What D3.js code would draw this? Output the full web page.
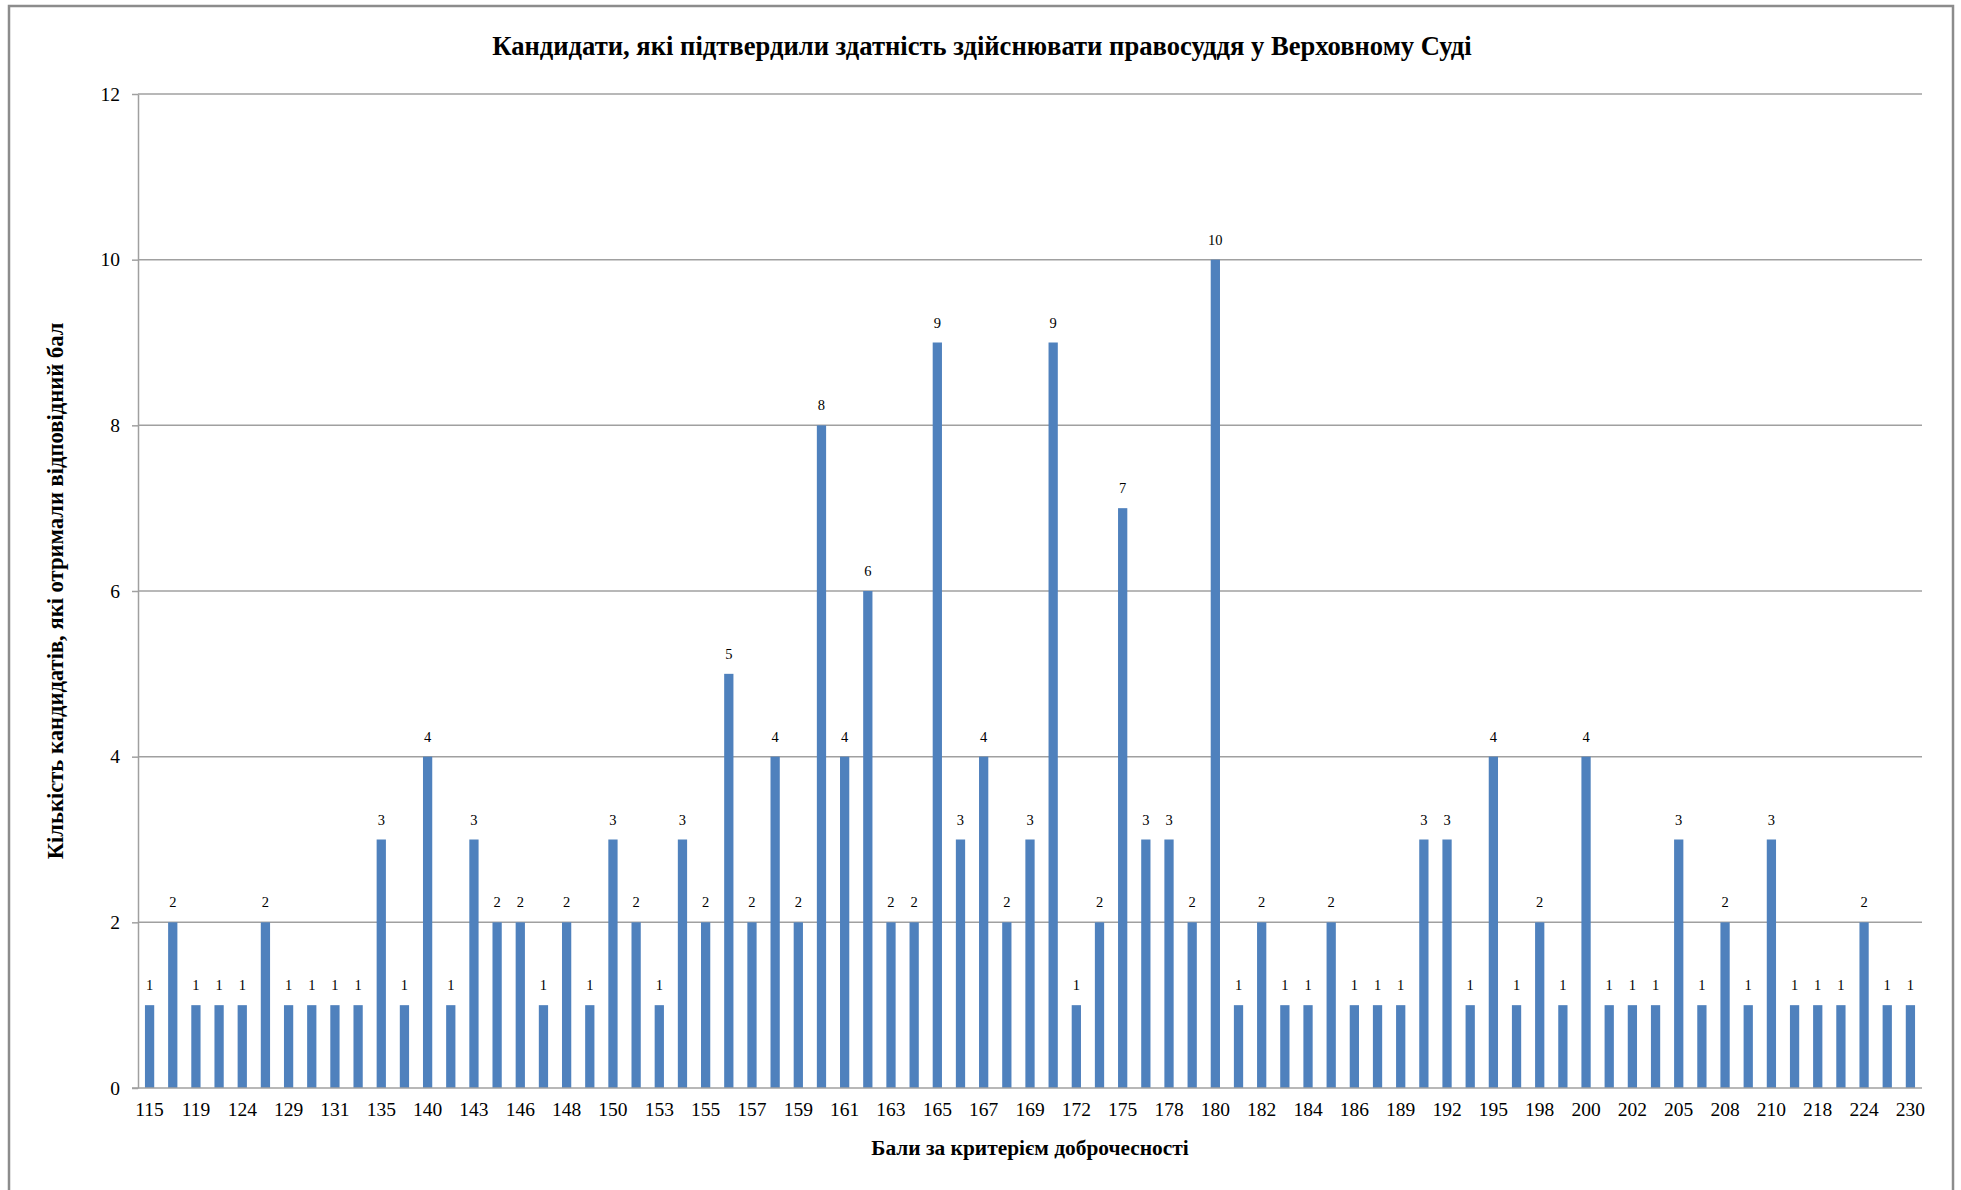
<!DOCTYPE html>
<html>
<head>
<meta charset="utf-8">
<script src="https://cdn.jsdelivr.net/npm/d3@7"></script>
<style>
body {margin:0;background:#fff;}
svg {display:block;}
.title {font-family:"Liberation Serif","Times New Roman",serif;font-weight:bold;font-size:26.6px;}
.axtitle {font-family:"Liberation Serif","Times New Roman",serif;font-weight:bold;font-size:21.4px;}
.ytitle {font-size:22.6px;}
.tick text {font-family:"Liberation Serif","Times New Roman",serif;font-size:19.5px;fill:#000;}
.lbl {font-family:"Liberation Serif","Times New Roman",serif;font-size:14.5px;fill:#000;}
</style>
</head>
<body>
<svg id="chart" width="1961" height="1190"></svg>
<script>
// scores (x categories) and number of candidates per score
var scores = [115,117,119,122,124,127,129,130,131,133,135,137,140,142,143,145,146,147,148,149,
  150,152,153,154,155,156,157,158,159,160,161,162,163,164,165,166,167,168,169,170,
  172,173,175,176,178,179,180,181,182,183,184,185,186,188,189,190,192,194,195,197,
  198,199,200,201,202,204,205,206,208,209,210,215,218,220,224,225,230];
var counts = [1,2,1,1,1,2,1,1,1,1,3,1,4,1,3,2,2,1,2,1,
  3,2,1,3,2,5,2,4,2,8,4,6,2,2,9,3,4,2,3,9,
  1,2,7,3,3,2,10,1,2,1,1,2,1,1,1,3,3,1,4,1,
  2,1,4,1,1,1,3,1,2,1,3,1,1,1,2,1,1];
var yTicks = [0,2,4,6,8,10,12];

var title = "Кандидати, які підтвердили здатність здійснювати правосуддя у Верховному Суді";
var xTitle = "Бали за критерієм доброчесності";
var yTitle = "Кількість кандидатів, які отримали відповідний бал";

var data = scores.map(function(s, i) { return {score: s, count: counts[i]}; });

var svg = d3.select("#chart");
var plotL = 138, plotR = 1922, plotT = 94, plotB = 1088;

// outer frame
svg.append("rect").attr("x", 9).attr("y", 6).attr("width", 1944).attr("height", 1200)
  .attr("fill", "none").attr("stroke", "#8c8c8c").attr("stroke-width", 2.5);

var x = d3.scaleBand().domain(scores).range([plotL, plotR]).paddingInner(0.6).paddingOuter(0.3);
var y = d3.scaleLinear().domain([0, 12]).range([plotB, plotT]);

// gridlines
svg.append("g").selectAll("line").data(yTicks.slice(1)).enter().append("line")
  .attr("x1", plotL).attr("x2", plotR)
  .attr("y1", function(d) { return y(d); }).attr("y2", function(d) { return y(d); })
  .attr("stroke", "#a0a0a0").attr("stroke-width", 1.5);

// y axis
var yAxis = svg.append("g").attr("transform", "translate(" + plotL + ",0)")
  .call(d3.axisLeft(y).tickValues(yTicks).tickSize(6).tickPadding(12).tickSizeOuter(0));
yAxis.select(".domain").attr("stroke", "#a0a0a0").attr("stroke-width", 1.5);
yAxis.selectAll(".tick line").attr("stroke", "#a0a0a0").attr("stroke-width", 1.5);

// bars
svg.append("g").selectAll("rect").data(data).enter().append("rect")
  .attr("x", function(d) { return x(d.score); })
  .attr("width", x.bandwidth())
  .attr("y", function(d) { return y(d.count); })
  .attr("height", function(d) { return y(0) - y(d.count); })
  .attr("fill", "#4f81bd");

// value labels
svg.append("g").selectAll("text").data(data).enter().append("text")
  .attr("class", "lbl")
  .attr("x", function(d) { return x(d.score) + x.bandwidth() / 2; })
  .attr("y", function(d) { return y(d.count) - 15; })
  .attr("text-anchor", "middle")
  .text(function(d) { return d.count; });

// x axis
var xAxis = svg.append("g").attr("transform", "translate(0," + plotB + ")")
  .call(d3.axisBottom(x).tickValues(scores.filter(function(d, i) { return i % 2 === 0; }))
    .tickSize(0).tickPadding(14).tickSizeOuter(0));
xAxis.select(".domain").attr("stroke", "#a0a0a0").attr("stroke-width", 1.5)
  .attr("d", "M" + (plotL - 6) + ",0H" + plotR);

// titles
svg.append("text").attr("class", "title").attr("x", 982).attr("y", 55)
  .attr("text-anchor", "middle").text(title);
svg.append("text").attr("class", "axtitle").attr("x", (plotL + plotR) / 2).attr("y", 1155)
  .attr("text-anchor", "middle").text(xTitle);
svg.append("text").attr("class", "axtitle ytitle")
  .attr("transform", "translate(63," + ((plotT + plotB) / 2) + ") rotate(-90)")
  .attr("text-anchor", "middle").text(yTitle);
</script>
</body>
</html>
